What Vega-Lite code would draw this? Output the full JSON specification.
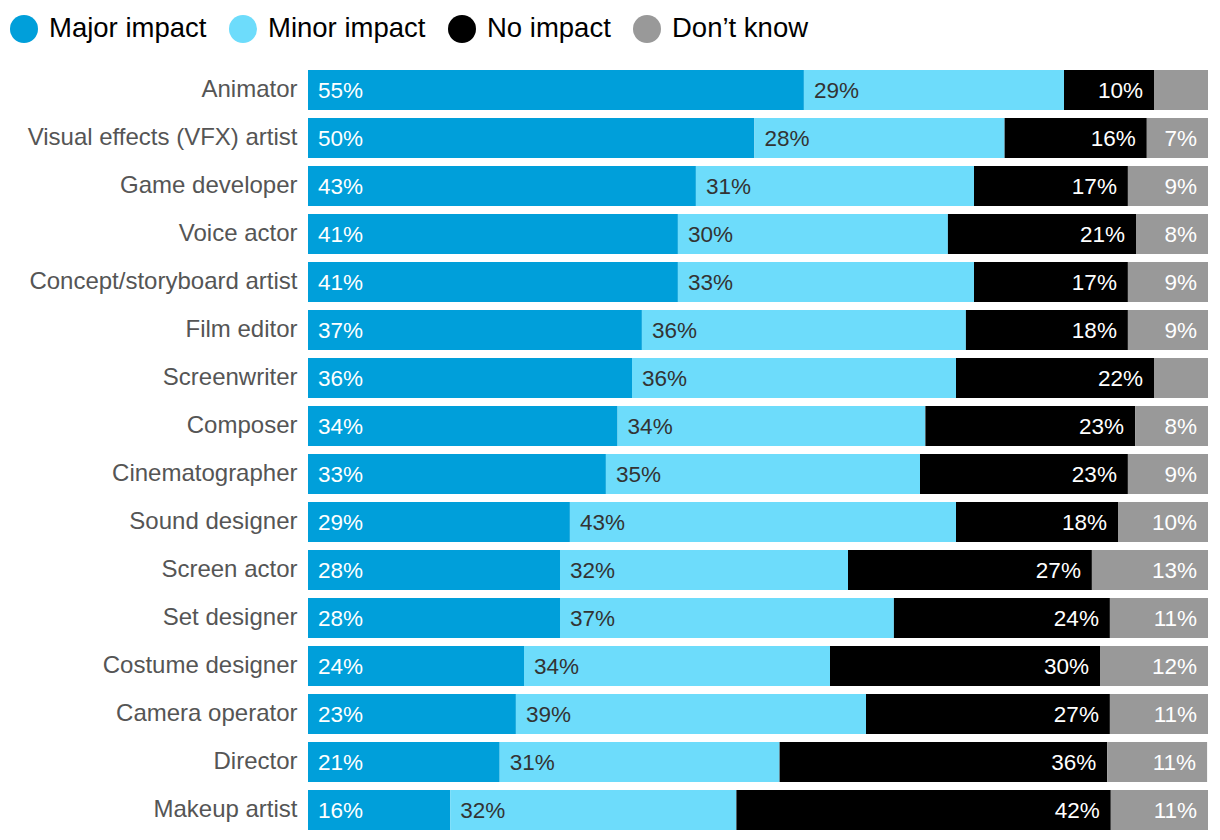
{
  "$schema": "https://vega.github.io/schema/vega-lite/v6.json",
  "autosize": {"type": "none"},
  "width": 900,
  "height": 768,
  "padding": {"left": 308, "top": 66, "right": 12, "bottom": 6},
  "background": "white",
  "config": {"view": {"stroke": null}, "font": "Liberation Sans"},
  "data": {"values": [
    {"role": "Animator", "response": "Major impact", "value": 0.551},
    {"role": "Animator", "response": "Minor impact", "value": 0.289},
    {"role": "Animator", "response": "No impact", "value": 0.100},
    {"role": "Animator", "response": "Don’t know", "value": 0.060},
    {"role": "Visual effects (VFX) artist", "response": "Major impact", "value": 0.496},
    {"role": "Visual effects (VFX) artist", "response": "Minor impact", "value": 0.278},
    {"role": "Visual effects (VFX) artist", "response": "No impact", "value": 0.158},
    {"role": "Visual effects (VFX) artist", "response": "Don’t know", "value": 0.068},
    {"role": "Game developer", "response": "Major impact", "value": 0.431},
    {"role": "Game developer", "response": "Minor impact", "value": 0.309},
    {"role": "Game developer", "response": "No impact", "value": 0.171},
    {"role": "Game developer", "response": "Don’t know", "value": 0.089},
    {"role": "Voice actor", "response": "Major impact", "value": 0.411},
    {"role": "Voice actor", "response": "Minor impact", "value": 0.300},
    {"role": "Voice actor", "response": "No impact", "value": 0.209},
    {"role": "Voice actor", "response": "Don’t know", "value": 0.080},
    {"role": "Concept/storyboard artist", "response": "Major impact", "value": 0.411},
    {"role": "Concept/storyboard artist", "response": "Minor impact", "value": 0.329},
    {"role": "Concept/storyboard artist", "response": "No impact", "value": 0.171},
    {"role": "Concept/storyboard artist", "response": "Don’t know", "value": 0.089},
    {"role": "Film editor", "response": "Major impact", "value": 0.371},
    {"role": "Film editor", "response": "Minor impact", "value": 0.360},
    {"role": "Film editor", "response": "No impact", "value": 0.180},
    {"role": "Film editor", "response": "Don’t know", "value": 0.089},
    {"role": "Screenwriter", "response": "Major impact", "value": 0.360},
    {"role": "Screenwriter", "response": "Minor impact", "value": 0.360},
    {"role": "Screenwriter", "response": "No impact", "value": 0.220},
    {"role": "Screenwriter", "response": "Don’t know", "value": 0.060},
    {"role": "Composer", "response": "Major impact", "value": 0.344},
    {"role": "Composer", "response": "Minor impact", "value": 0.342},
    {"role": "Composer", "response": "No impact", "value": 0.233},
    {"role": "Composer", "response": "Don’t know", "value": 0.081},
    {"role": "Cinematographer", "response": "Major impact", "value": 0.331},
    {"role": "Cinematographer", "response": "Minor impact", "value": 0.349},
    {"role": "Cinematographer", "response": "No impact", "value": 0.231},
    {"role": "Cinematographer", "response": "Don’t know", "value": 0.089},
    {"role": "Sound designer", "response": "Major impact", "value": 0.291},
    {"role": "Sound designer", "response": "Minor impact", "value": 0.429},
    {"role": "Sound designer", "response": "No impact", "value": 0.180},
    {"role": "Sound designer", "response": "Don’t know", "value": 0.100},
    {"role": "Screen actor", "response": "Major impact", "value": 0.280},
    {"role": "Screen actor", "response": "Minor impact", "value": 0.320},
    {"role": "Screen actor", "response": "No impact", "value": 0.271},
    {"role": "Screen actor", "response": "Don’t know", "value": 0.129},
    {"role": "Set designer", "response": "Major impact", "value": 0.280},
    {"role": "Set designer", "response": "Minor impact", "value": 0.371},
    {"role": "Set designer", "response": "No impact", "value": 0.240},
    {"role": "Set designer", "response": "Don’t know", "value": 0.109},
    {"role": "Costume designer", "response": "Major impact", "value": 0.240},
    {"role": "Costume designer", "response": "Minor impact", "value": 0.340},
    {"role": "Costume designer", "response": "No impact", "value": 0.300},
    {"role": "Costume designer", "response": "Don’t know", "value": 0.120},
    {"role": "Camera operator", "response": "Major impact", "value": 0.231},
    {"role": "Camera operator", "response": "Minor impact", "value": 0.389},
    {"role": "Camera operator", "response": "No impact", "value": 0.271},
    {"role": "Camera operator", "response": "Don’t know", "value": 0.109},
    {"role": "Director", "response": "Major impact", "value": 0.213},
    {"role": "Director", "response": "Minor impact", "value": 0.311},
    {"role": "Director", "response": "No impact", "value": 0.364},
    {"role": "Director", "response": "Don’t know", "value": 0.111},
    {"role": "Makeup artist", "response": "Major impact", "value": 0.158},
    {"role": "Makeup artist", "response": "Minor impact", "value": 0.318},
    {"role": "Makeup artist", "response": "No impact", "value": 0.416},
    {"role": "Makeup artist", "response": "Don’t know", "value": 0.108}
  ]},
  "transform": [
    {"stack": "value", "groupby": ["role"], "as": ["x0", "x1"], "offset": "zero"}
  ],
  "encoding": {
    "y": {
      "field": "role", "type": "nominal", "sort": null,
      "scale": {"paddingInner": 0.1667, "paddingOuter": 0.0833},
      "axis": {
        "title": null, "ticks": false, "domain": false,
        "labelFontSize": 24, "labelColor": "#555555",
        "labelPadding": 11, "labelFont": "Liberation Sans", "labelLimit": 400
      }
    }
  },
  "layer": [
    {
      "mark": {"type": "bar", "cornerRadius": 0},
      "encoding": {
        "x": {"field": "x0", "type": "quantitative", "scale": {"domain": [0, 1], "nice": false, "zero": true}, "axis": null},
        "x2": {"field": "x1"},
        "color": {
          "field": "response", "type": "nominal",
          "scale": {
            "domain": ["Major impact", "Minor impact", "No impact", "Don’t know"],
            "range": ["#009fda", "#6ddcfb", "#000000", "#999999"]
          },
          "legend": {
            "title": null, "orient": "none", "direction": "horizontal",
            "legendX": -298, "legendY": -51, "padding": 0,
            "symbolType": "circle", "symbolSize": 784, "symbolStrokeWidth": 0,
            "symbolOpacity": 1,
            "labelFontSize": 27.5, "labelColor": "#000000", "labelFont": "Liberation Sans",
            "labelOffset": 11, "columnPadding": 22, "labelLimit": 300
          }
        }
      }
    },
    {
      "transform": [{"filter": "datum.response === 'Major impact' || datum.response === 'Minor impact'"}],
      "mark": {"type": "text", "align": "left", "baseline": "middle", "dx": 10, "dy": 1, "fontSize": 22.5, "font": "Liberation Sans"},
      "encoding": {
        "x": {"field": "x0", "type": "quantitative"},
        "text": {"field": "value", "type": "quantitative", "format": ".0%"},
        "color": {
          "condition": {"test": "datum.response === 'Major impact'", "value": "#ffffff"},
          "value": "#333333"
        }
      }
    },
    {
      "transform": [
        {"filter": "datum.response === 'No impact' || datum.response === 'Don’t know'"},
        {"filter": "datum.value >= 0.065"}
      ],
      "mark": {"type": "text", "align": "right", "baseline": "middle", "dx": -11, "dy": 1, "fontSize": 22.5, "font": "Liberation Sans", "color": "#ffffff"},
      "encoding": {
        "x": {"field": "x1", "type": "quantitative"},
        "text": {"field": "value", "type": "quantitative", "format": ".0%"}
      }
    }
  ]
}
